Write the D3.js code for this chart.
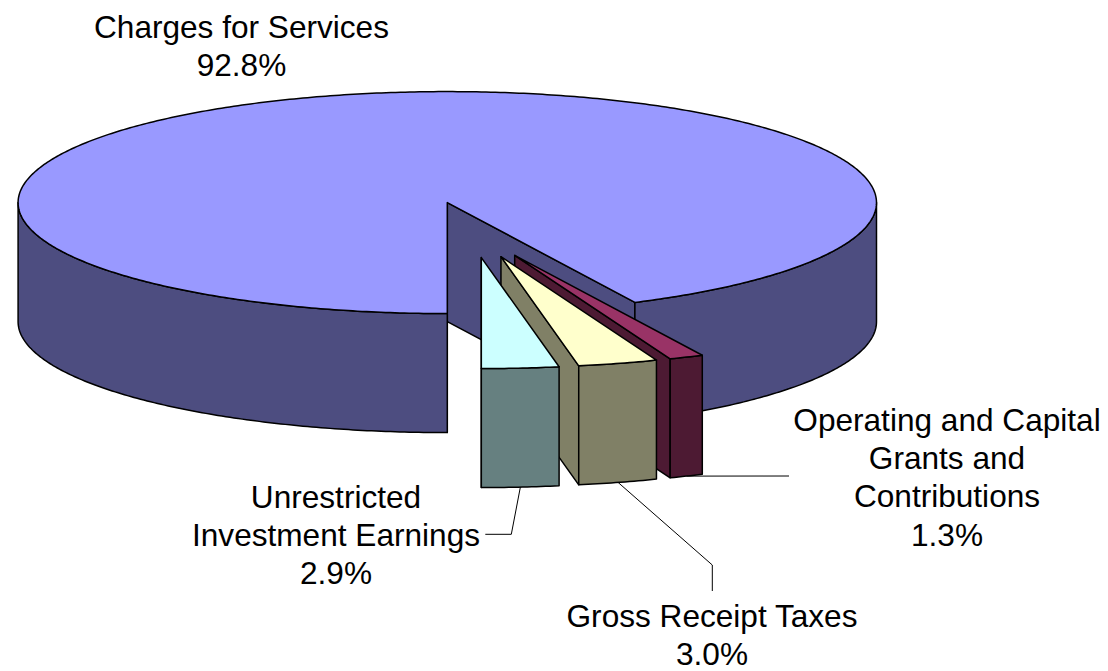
<!DOCTYPE html>
<html>
<head>
<meta charset="utf-8">
<style>
  html, body { margin: 0; padding: 0; background: #fff; }
  svg { display: block; }
  text { font-family: "Liberation Sans", Arial, sans-serif; font-size: 31.6px; fill: #000; text-anchor: middle; }
</style>
<script src="https://cdn.jsdelivr.net/npm/d3@7"></script>
</head>
<body>
<svg id="chart" width="1108" height="671"></svg>
<script>
// Revenue sources, in percent, in pie order (clockwise from the front of the pie).
const categories = ["Charges for Services", "Operating and Capital Grants and Contributions", "Gross Receipt Taxes", "Unrestricted Investment Earnings"];
const shares = [92.8, 1.3, 3.0, 2.9];
const labelLines = [
  ["Charges for Services", "92.8%"],
  ["Operating and Capital", "Grants and", "Contributions", "1.3%"],
  ["Gross Receipt Taxes", "3.0%"],
  ["Unrestricted", "Investment Earnings", "2.9%"]
];
const topColors = ["#9999FF", "#993366", "#FFFFCC", "#CCFFFF"];
const sideColors = ["#4D4D80", "#4D1A33", "#808066", "#668080"];

// Pie geometry on the page
const W = 1108, H = 671;
const cx = 471.5, cy = 229.8, rx = 429.2, ry = 111, depth = 119, explode = 0.2515;
const labelX = [241.5, 947, 712, 336];
const labelY = [38, 431, 627, 508];
const lineStep = 38.2;
const leaderTail = [
  null,
  [[789, 476]],
  [[712.3, 565], [712.3, 591]],
  [[511.3, 534.3], [485.3, 534.3]]
];

// The unit circle of the pie maps to the flattened ellipse on the page.
const xs = d3.scaleLinear().domain([-1, 1]).range([cx - rx, cx + rx]);
const ys = d3.scaleLinear().domain([-1, 1]).range([cy - ry, cy + ry]);

const pie = d3.pie().sort(null).startAngle(Math.PI).endAngle(3 * Math.PI);
const arcs = pie(shares);
const line = d3.line();
const svg = d3.select("#chart");

const mid = a => (a.startAngle + a.endAngle) / 2;
const offset = a => [Math.sin(mid(a)) * explode, -Math.cos(mid(a)) * explode];

// Project a pie angle on the rim (or the slice apex when r = 0) of an exploded slice.
function rim(a, angle, r = 1, drop = 0) {
  const [ox, oy] = offset(a);
  return [xs(ox + r * Math.sin(angle)), ys(oy - r * Math.cos(angle)) + drop];
}
function arcPoints(a, from, to, drop = 0) {
  const n = Math.max(2, Math.ceil((to - from) * 90));
  return d3.range(n + 1).map(i => rim(a, from + (to - from) * i / n, 1, drop));
}

// Leader lines sit behind the slices and start on the lower rim at the mid-angle.
arcs.forEach((a, i) => {
  if (!leaderTail[i]) return;
  svg.append("path")
    .attr("d", line([rim(a, mid(a), 1, depth), ...leaderTail[i]]))
    .attr("fill", "none").attr("stroke", "#000").attr("stroke-width", 1);
});

function face(points, fill) {
  svg.append("path")
    .attr("d", line(points) + "Z")
    .attr("fill", fill)
    .attr("stroke", "#000")
    .attr("stroke-width", 1.5)
    .attr("stroke-linejoin", "round");
}

// Paint back to front: large slice, then the exploded slices from right to left.
arcs.forEach((a, i) => {
  const apex = rim(a, 0, 0);
  const start = a.startAngle, end = a.endAngle;
  const TAU = 2 * Math.PI;

  // Cut faces, drawn first so the front wall and top cover their shared edges.
  const cutStart = rim(a, start), cutEnd = rim(a, end);
  const cutFace = p => face([apex, p, [p[0], p[1] + depth], [apex[0], apex[1] + depth]], sideColors[i]);
  cutFace(cutEnd);
  if (i === 0) cutFace(cutStart);

  // Outer wall: only the part of the rim that faces the viewer (pi/2 .. 3pi/2, mod 2pi).
  [[Math.PI / 2, 3 * Math.PI / 2], [Math.PI / 2 + TAU, 3 * Math.PI / 2 + TAU]].forEach(([lo, hi]) => {
    const from = Math.max(start, lo), to = Math.min(end, hi);
    if (to > from) {
      face([...arcPoints(a, from, to), ...arcPoints(a, from, to, depth).reverse()], sideColors[i]);
    }
  });

  // Top surface
  face([apex, ...arcPoints(a, start, end)], topColors[i]);
});

// Category labels with their percentage on the last line
labelLines.forEach((lines, i) => {
  svg.selectAll(null).data(lines).enter().append("text")
    .attr("x", labelX[i])
    .attr("y", (d, k) => labelY[i] + k * lineStep)
    .text(d => d);
});
</script>
</body>
</html>
